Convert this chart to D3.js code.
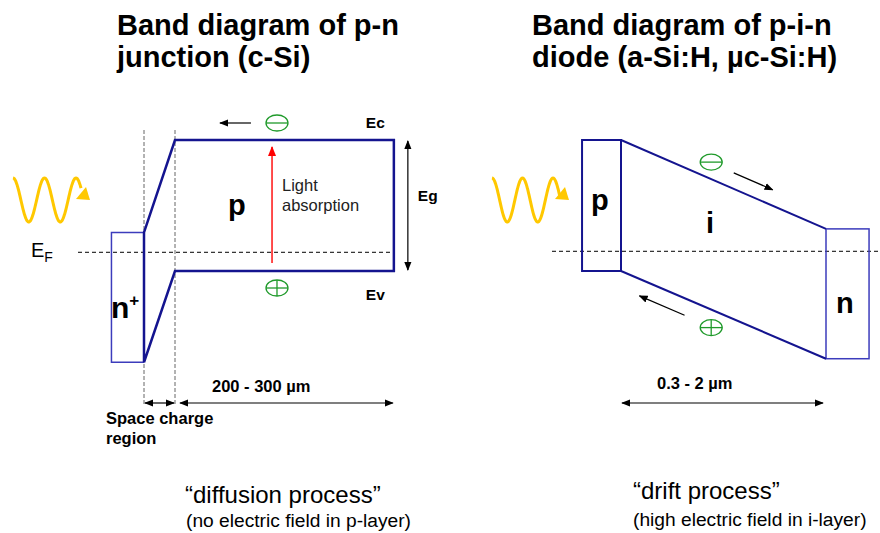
<!DOCTYPE html>
<html>
<head>
<meta charset="utf-8">
<script src="https://cdnjs.cloudflare.com/ajax/libs/d3/7.8.5/d3.min.js"></script>
<style>
  body { margin: 0; background: #fff; }
  text { font-family: "Liberation Sans", Arial, sans-serif; }
  .title { font-size: 29px; font-weight: bold; fill: #000; }
  .lbl { font-weight: bold; fill: #000; }
</style>
</head>
<body>
<div id="chart"></div>
<script>
// band edges, energy in eV (Ev of p-layer = 0), position in layout units
var leftX  = [-1.05, 0, 1, 8.06];   // n+ contact, junction, end of SCR, back contact
var leftEc = [0.33, 0.33, 1.12, 1.12];
var leftEv = [-0.78, -0.78, 0, 0];

var rightX  = [-0.19, 0, 1, 1.21];  // p contact, p/i, i/n, n contact
var rightEc = [1.12, 1.12, 0.36, 0.36];
var rightEv = [0, 0, -0.75, -0.75];

var fermiLevel = 0.16;

var titles = {
  left: ["Band diagram of p-n", "junction (c-Si)"],
  right: ["Band diagram of p-i-n", "diode (a-Si:H, \u00b5c-Si:H)"]
};

var width = 880, height = 533;
var navy = "#14148f", thinBlue = "#3c3cbc", green = "#1f9a2a", gold = "#ffc800";

var svg = d3.select("#chart").append("svg")
  .attr("width", width)
  .attr("height", height);

svg.append("rect").attr("width", width).attr("height", height).attr("fill", "#fff");

var defs = svg.append("defs");
function marker(id, color, size) {
  defs.append("marker")
    .attr("id", id)
    .attr("viewBox", "0 0 10 10")
    .attr("refX", 9).attr("refY", 5)
    .attr("markerWidth", size).attr("markerHeight", size)
    .attr("markerUnits", "userSpaceOnUse")
    .attr("orient", "auto-start-reverse")
    .append("path")
    .attr("d", "M0,1 L10,5 L0,9 Z")
    .attr("fill", color);
}
marker("arr", "#000", 9);
marker("arrRed", "#ff0000", 10);

var yE = d3.scaleLinear().domain([0, 1.12]).range([271, 140]);
var xL = d3.scaleLinear().domain([0, 1]).range([144, 175]);
var xR = d3.scaleLinear().domain([0, 1]).range([621, 826]);

var line = d3.line();

function arrow(x1, y1, x2, y2, both, color, mk) {
  var p = svg.append("line")
    .attr("x1", x1).attr("y1", y1).attr("x2", x2).attr("y2", y2)
    .attr("stroke", color || "#000")
    .attr("stroke-width", 1.2)
    .attr("marker-end", "url(#" + (mk || "arr") + ")");
  if (both) p.attr("marker-start", "url(#" + (mk || "arr") + ")");
  return p;
}

function carrier(cx, cy, sign) {
  var g = svg.append("g").attr("stroke", green).attr("stroke-width", 1.3).attr("fill", "none");
  g.append("ellipse").attr("cx", cx).attr("cy", cy).attr("rx", 11).attr("ry", 8);
  g.append("line").attr("x1", cx - 11).attr("x2", cx + 11).attr("y1", cy).attr("y2", cy);
  if (sign > 0) g.append("line").attr("x1", cx).attr("x2", cx).attr("y1", cy - 8).attr("y2", cy + 8);
}

function wave(x0, yc, period) {
  var pts = d3.range(0, 68.5, 0.5).map(function(d) {
    return [x0 + d, yc - 22 * Math.cos(2 * Math.PI * d / period)];
  });
  svg.append("path")
    .attr("d", d3.line().curve(d3.curveBasis)(pts))
    .attr("fill", "none")
    .attr("stroke", gold)
    .attr("stroke-width", 3);
  svg.append("path")
    .attr("d", line([[x0 + 77, yc], [x0 + 63, yc - 1], [x0 + 73, yc - 13]]) + "Z")
    .attr("fill", gold);
}

function txt(x, y, s, size, cls, fill) {
  return svg.append("text")
    .attr("x", x).attr("y", y)
    .attr("class", cls || null)
    .attr("font-size", size)
    .attr("fill", fill || "#000")
    .text(s);
}

// titles
titles.left.forEach(function(t, i) { txt(117, 35 + i * 32, t, null, "title"); });
titles.right.forEach(function(t, i) { txt(532, 35 + i * 32, t, null, "title"); });

// ---------- left: p-n junction ----------
var L = leftX.map(function(d, i) { return { x: xL(d), ec: yE(leftEc[i]), ev: yE(leftEv[i]) }; });

// space charge region borders
[leftX[1], leftX[2]].forEach(function(d) {
  svg.append("line")
    .attr("x1", xL(d)).attr("x2", xL(d))
    .attr("y1", 130).attr("y2", 405)
    .attr("stroke", "#555").attr("stroke-width", 0.9)
    .attr("stroke-dasharray", "4,2");
});

// fermi level
svg.append("line")
  .attr("x1", 78).attr("x2", L[3].x)
  .attr("y1", yE(fermiLevel)).attr("y2", yE(fermiLevel))
  .attr("stroke", "#000").attr("stroke-width", 1)
  .attr("stroke-dasharray", "4,3");

// n+ contact box
svg.append("path")
  .attr("d", line([[L[1].x, L[1].ec], [L[0].x, L[0].ec], [L[0].x, L[0].ev], [L[1].x, L[1].ev]]))
  .attr("fill", "none").attr("stroke", thinBlue).attr("stroke-width", 1.5);

// bands
svg.append("path")
  .attr("d", line([[L[1].x, L[1].ev], [L[1].x, L[1].ec], [L[2].x, L[2].ec], [L[3].x, L[3].ec],
                   [L[3].x, L[3].ev], [L[2].x, L[2].ev], [L[1].x, L[1].ev]]) + "Z")
  .attr("fill", "none").attr("stroke", navy).attr("stroke-width", 2.5)
  .attr("stroke-linejoin", "miter");

// light absorption
var xAbs = xL(4.13);
arrow(xAbs, L[3].ev - 8, xAbs, L[3].ec + 7, false, "#ff0000", "arrRed").attr("stroke-width", 1.4);
txt(282, 191, "Light", 16.5, null, "#222");
txt(282, 211, "absorption", 16.5, null, "#222");

carrier(xL(4.29), L[2].ec - 17, -1);
carrier(xL(4.29), L[2].ev + 17, 1);
arrow(xL(3.45), L[2].ec - 17, xL(2.45), L[2].ec - 17);

// Eg
arrow(L[3].x + 14, L[3].ec + 1, L[3].x + 14, L[3].ev - 1, true);
txt(L[3].x + 24, 201, "Eg", 15.5, "lbl");
txt(L[3].x - 28, L[3].ec - 12, "Ec", 15.5, "lbl");
txt(L[3].x - 28, L[3].ev + 29, "Ev", 15.5, "lbl");

txt(228, 215, "p", 29, "lbl");
var np = txt(111, 318, "n", 30, "lbl");
np.append("tspan").attr("font-size", 17).attr("dy", -12).text("+");

var ef = txt(31, 257, "E", 20);
ef.append("tspan").attr("font-size", 14).attr("dy", 5).text("F");

// dimensions
arrow(L[1].x + 1, 403, L[2].x - 1, 403, true);
arrow(L[2].x + 5, 403, L[3].x - 1, 403, true);
txt(212, 392, "200 - 300 \u00b5m", 16.5, "lbl");
txt(106, 424, "Space charge", 16.5, "lbl");
txt(106, 444, "region", 16.5, "lbl");

txt(185, 503, "\u201cdiffusion process\u201d", 24);
txt(186, 527, "(no electric field in p-layer)", 19.2);

wave(13, 200, 31.5);

// ---------- right: p-i-n diode ----------
var R = rightX.map(function(d, i) { return { x: xR(d), ec: yE(rightEc[i]), ev: yE(rightEv[i]) }; });

svg.append("line")
  .attr("x1", 552).attr("x2", width)
  .attr("y1", yE(fermiLevel) - 1).attr("y2", yE(fermiLevel) - 1)
  .attr("stroke", "#000").attr("stroke-width", 1)
  .attr("stroke-dasharray", "4,3");

// n contact box
svg.append("rect")
  .attr("x", R[2].x).attr("y", R[2].ec)
  .attr("width", R[3].x - R[2].x).attr("height", R[3].ev - R[2].ec)
  .attr("fill", "none").attr("stroke", thinBlue).attr("stroke-width", 1.5);

// p contact box
svg.append("rect")
  .attr("x", R[0].x).attr("y", R[0].ec)
  .attr("width", R[1].x - R[0].x).attr("height", R[0].ev - R[0].ec)
  .attr("fill", "none").attr("stroke", navy).attr("stroke-width", 2);

svg.append("path")
  .attr("d", line([[R[1].x, R[1].ec], [R[2].x, R[2].ec]]))
  .attr("stroke", navy).attr("stroke-width", 2);
svg.append("path")
  .attr("d", line([[R[1].x, R[1].ev], [R[2].x, R[2].ev]]))
  .attr("stroke", navy).attr("stroke-width", 2);

function ecAt(t) { return yE(rightEc[1] + (rightEc[2] - rightEc[1]) * t); }
function evAt(t) { return yE(rightEv[1] + (rightEv[2] - rightEv[1]) * t); }

carrier(xR(0.44), ecAt(0.44) - 17, -1);
carrier(xR(0.44), evAt(0.44) + 18, 1);
arrow(xR(0.55), ecAt(0.55) - 16, xR(0.74), ecAt(0.74) - 16);
arrow(xR(0.31), evAt(0.31) + 17, xR(0.09), evAt(0.09) + 17);

txt(591, 210, "p", 29, "lbl");
txt(706, 233, "i", 29, "lbl");
txt(836, 313, "n", 29, "lbl");

arrow(R[1].x + 1, 403, R[2].x - 3, 403, true);
txt(657, 389, "0.3 - 2 \u00b5m", 16.5, "lbl");

txt(633, 499, "\u201cdrift process\u201d", 24);
txt(633, 526, "(high electric field in i-layer)", 19.2);

wave(492, 200, 30.5);
</script>
</body>
</html>
